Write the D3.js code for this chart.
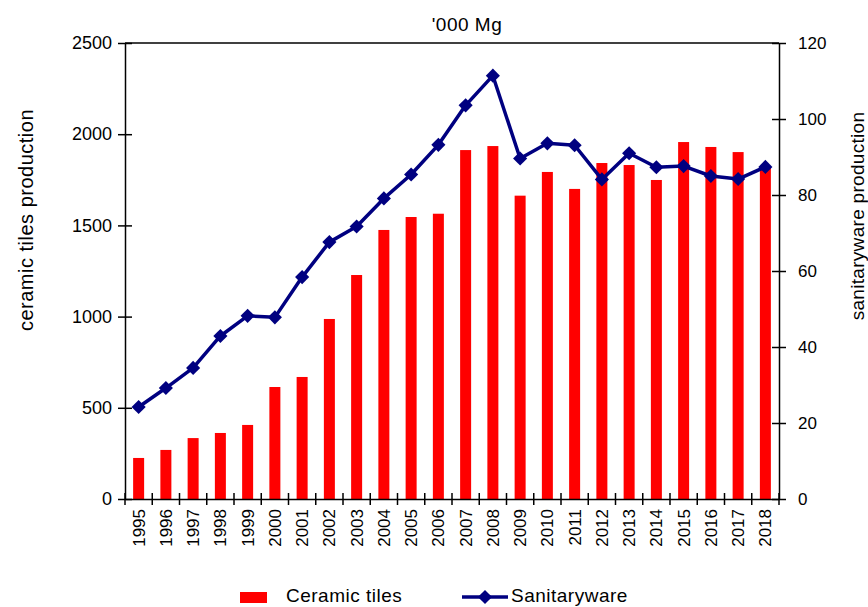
<!DOCTYPE html>
<html><head><meta charset="utf-8">
<script src="https://cdn.jsdelivr.net/npm/d3@7"></script>
<style>body{margin:0;background:#fff}svg{display:block;font-family:"Liberation Sans",Arial,sans-serif}</style>
</head><body><svg id="c" width="868" height="607"></svg>
<script>
const years = ["1995","1996","1997","1998","1999","2000","2001","2002","2003","2004","2005","2006","2007","2008","2009","2010","2011","2012","2013","2014","2015","2016","2017","2018"];
const ceramicTiles = [225,269,334,362,406,614,669,987,1228,1475,1546,1564,1913,1935,1663,1793,1700,1842,1831,1749,1957,1930,1902,1820];
const sanitaryware = [24.2,29.2,34.5,42.9,48.2,47.8,58.4,67.6,71.7,79.1,85.4,93.2,103.6,111.4,89.6,93.6,93.1,84.1,91.0,87.3,87.6,85.0,84.2,87.4];
const leftTicks = [0,500,1000,1500,2000,2500];
const rightTicks = [0,20,40,60,80,100,120];

const svg = d3.select("#c");
const L = 125, R = 779, T = 43, B = 499;
const xb = d3.scaleBand().domain(years).range([L, R]);
const yL = d3.scaleLinear().domain([0, 2500]).range([B, T]);
const yR = d3.scaleLinear().domain([0, 120]).range([B, T]);
const cx = d => xb(d) + xb.bandwidth() / 2;

// bars
svg.append("g").selectAll("rect").data(years).join("rect")
  .attr("x", d => cx(d) - 5.5)
  .attr("width", 11)
  .attr("y", (d,i) => yL(ceramicTiles[i]))
  .attr("height", (d,i) => B - yL(ceramicTiles[i]))
  .attr("fill", "#ff0000");

// frame top
svg.append("line").attr("x1", L).attr("x2", R).attr("y1", T).attr("y2", T).attr("stroke", "#000").attr("stroke-width", 1.5);

// left axis
const gl = svg.append("g").attr("transform", `translate(${L},0)`)
  .call(d3.axisLeft(yL).tickValues(leftTicks).tickFormat(d3.format("d")).tickSize(7).tickSizeOuter(0).tickPadding(6));
gl.selectAll(".tick line").attr("x2", 7).attr("x1", -7);
gl.selectAll("text").attr("font-size", 18);
// right axis
const gr = svg.append("g").attr("transform", `translate(${R},0)`)
  .call(d3.axisRight(yR).tickValues(rightTicks).tickFormat(d3.format("d")).tickSize(7).tickSizeOuter(0).tickPadding(12));
gr.selectAll(".tick line").attr("x1", -7).attr("x2", 7);
gr.selectAll("text").attr("font-size", 17);
// bottom axis
const gb = svg.append("g").attr("transform", `translate(0,${B})`)
  .call(d3.axisBottom(xb).tickSize(0).tickSizeOuter(0).tickPadding(6));
gb.selectAll(".tick text").attr("transform", "rotate(-90)").attr("text-anchor", "end")
  .attr("x", -10).attr("y", 0).attr("dy", "0.35em").attr("font-size", 17);
// boundary ticks
const bounds = years.map(d => xb(d)).concat([R]);
svg.append("g").selectAll("line").data(bounds).join("line")
  .attr("x1", d => d).attr("x2", d => d).attr("y1", B - 6).attr("y2", B + 6)
  .attr("stroke", "#000").attr("stroke-width", 1.5);

[gl, gr, gb].forEach(g => {
  g.selectAll(".domain").attr("stroke", "#000").attr("stroke-width", 1.5);
  g.selectAll(".tick line").attr("stroke", "#000").attr("stroke-width", 1.5);
  g.selectAll("text").attr("fill", "#000").attr("font-family", "Liberation Sans, Arial, sans-serif");
});

// line
const line = d3.line().x((d,i) => cx(years[i])).y(d => yR(d));
svg.append("path").datum(sanitaryware).attr("d", line).attr("fill", "none")
  .attr("stroke", "#000080").attr("stroke-width", 3.5).attr("stroke-linejoin", "round");
svg.append("g").selectAll("path").data(sanitaryware).join("path")
  .attr("transform", (d,i) => `translate(${cx(years[i])},${yR(d)}) rotate(45)`)
  .attr("d", d3.symbol().type(d3.symbolSquare).size(100))
  .attr("fill", "#000080");

// title & labels
svg.append("text").attr("x", 467).attr("y", 31).attr("text-anchor", "middle").attr("font-size", 19).attr("letter-spacing", 0.5).text("'000 Mg");
svg.append("text").attr("transform", "translate(33,220) rotate(-90)").attr("text-anchor", "middle").attr("font-size", 20).attr("letter-spacing", 0.5).text("ceramic tiles production");
svg.append("text").attr("transform", "translate(864,216) rotate(-90)").attr("text-anchor", "middle").attr("font-size", 19).attr("letter-spacing", 0.3).text("sanitaryware production");

// legend
const lg = svg.append("g");
lg.append("rect").attr("x", 240).attr("y", 592).attr("width", 27).attr("height", 11).attr("fill", "#ff0000");
lg.append("text").attr("x", 286).attr("y", 602).attr("font-size", 19).attr("letter-spacing", 0.5).text("Ceramic tiles");
lg.append("line").attr("x1", 462).attr("x2", 508).attr("y1", 597).attr("y2", 597).attr("stroke", "#000080").attr("stroke-width", 3.5);
lg.append("path").attr("transform", "translate(485,597) rotate(45)").attr("d", d3.symbol().type(d3.symbolSquare).size(100)).attr("fill", "#000080");
lg.append("text").attr("x", 511).attr("y", 602).attr("font-size", 19).attr("letter-spacing", 0.5).text("Sanitaryware");
</script></body></html>
